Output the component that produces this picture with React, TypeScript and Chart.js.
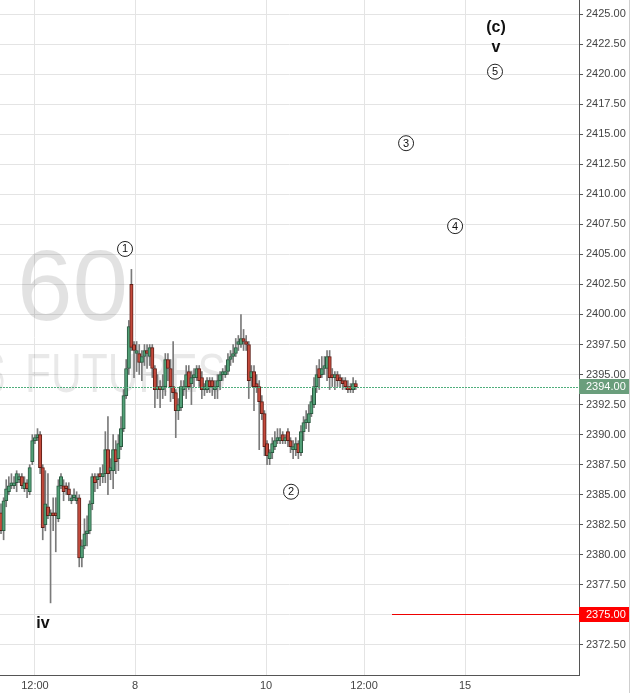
import { useEffect, useRef } from "react";
import { Chart, registerables } from "chart.js";
Chart.register(...registerables);

// OHLC of each bar, left to right
const opens = [
  2383.5, 2382, 2384.5, 2385.25, 2385.75, 2385.75, 2386, 2386.25, 2386.5, 2385.5,
  2386, 2385.25, 2387.75, 2389.5, 2389.75, 2390, 2387.25, 2382.5, 2384, 2383.25,
  2383.5, 2383.5, 2383, 2385.75, 2385.75, 2385.75, 2385.5, 2384.5, 2384.75, 2384.5,
  2384.75, 2379.75, 2380.75, 2381.75, 2382, 2384.25, 2386.5, 2386.25, 2386.75, 2386.5,
  2386.75, 2388.75, 2387, 2387, 2388.75, 2388, 2389, 2390.5, 2393.25, 2395.5,
  2402.5, 2397.5, 2396.75, 2396.75, 2396, 2396.5, 2397, 2396.5, 2397.25, 2395.5,
  2393.75, 2394, 2393.75, 2394, 2396.25, 2395.5, 2394, 2393.5, 2392, 2392.25,
  2393.75, 2394, 2395.25, 2394.25, 2394.75, 2394.75, 2395.5, 2394.75, 2393.75, 2393.75,
  2394.5, 2394.5, 2393.75, 2394, 2394.5, 2395, 2395, 2395.25, 2396.25, 2396.5,
  2396.75, 2397.5, 2397.5, 2398, 2397.75, 2397.5, 2394.75, 2395.25, 2394.25, 2394,
  2392.75, 2391.75, 2389.25, 2388, 2388.5, 2389, 2389.5, 2389.5, 2390, 2389.5,
  2390.25, 2389.5, 2388.75, 2388.75, 2389.25, 2388.5, 2390.25, 2391, 2391, 2391.75,
  2392.5, 2394, 2395.5, 2395, 2395.5, 2395.5, 2396.5, 2395, 2394.75, 2395,
  2394.75, 2394.5, 2394.5, 2394, 2394, 2393.75, 2394.25,
];
const highs = [
  2384.25, 2384.75, 2386.25, 2386.5, 2386.75, 2386.5, 2387, 2386.75, 2386.75, 2386.5,
  2386.25, 2387.5, 2390, 2390, 2390.5, 2390.25, 2387.5, 2387, 2386.75, 2383.75,
  2384.75, 2384.75, 2386.25, 2386.75, 2386.25, 2386, 2386, 2385, 2385.5, 2385.25,
  2385, 2381.25, 2383, 2383.25, 2384.5, 2386.75, 2386.75, 2386.75, 2387.25, 2387.5,
  2390.25, 2391.5, 2388, 2390, 2389.5, 2390, 2391.5, 2393.75, 2396.25, 2399.5,
  2403.75, 2397.75, 2397.75, 2397.5, 2397, 2397.5, 2397.5, 2397.5, 2397.5, 2395.75,
  2395, 2394.5, 2395, 2396.75, 2396.75, 2396.25, 2397.75, 2393.75, 2393, 2394.5,
  2394.5, 2395.75, 2395.75, 2395.25, 2395.5, 2395.75, 2395.75, 2395.25, 2394.25, 2394.75,
  2394.75, 2394.75, 2394.5, 2395, 2395.25, 2395.5, 2395.75, 2396.75, 2397, 2397.5,
  2398, 2398.25, 2400, 2398.75, 2398.25, 2397.75, 2395.75, 2395.75, 2395, 2394.5,
  2393.25, 2392, 2389.5, 2388.75, 2389.75, 2390.25, 2390.5, 2390.5, 2390.25, 2390,
  2390.5, 2389.75, 2389.5, 2389.75, 2389.5, 2390.75, 2391.5, 2392, 2392.5, 2393.25,
  2394.75, 2395.75, 2396.25, 2396.5, 2396.5, 2397, 2397, 2395.5, 2395.25, 2395.25,
  2395, 2394.75, 2394.75, 2394.5, 2394.25, 2394.75, 2394.5,
];
const lows = [
  2381.75, 2381.25, 2384, 2385, 2385.5, 2385.5, 2385.25, 2386, 2385.5, 2385.25,
  2384.75, 2385, 2387.5, 2389.25, 2389.5, 2386.75, 2381.25, 2382, 2383, 2376,
  2382, 2380.25, 2382.75, 2385.5, 2384.5, 2385, 2384.5, 2384.25, 2384.5, 2384.25,
  2379, 2379, 2380.5, 2380.75, 2381.75, 2383.75, 2385.25, 2385.5, 2385.75, 2386,
  2386, 2385, 2386.25, 2385.5, 2386.75, 2387, 2388.75, 2390.25, 2393, 2395,
  2397, 2394.75, 2395.25, 2395, 2394.5, 2395.75, 2395.5, 2395.75, 2394.75, 2392.25,
  2393, 2392.25, 2393, 2393.25, 2394.5, 2392.75, 2393, 2389.75, 2391.25, 2392,
  2393.25, 2393, 2393.75, 2392.5, 2394, 2394.5, 2394, 2393, 2393.25, 2393.5,
  2393.5, 2393.25, 2393, 2393, 2393.75, 2394.5, 2394.75, 2395, 2395.75, 2396,
  2396.5, 2397, 2397.25, 2397, 2397, 2393, 2394, 2392, 2393.5, 2388.75,
  2391.25, 2388.25, 2387.5, 2387.5, 2388, 2388.75, 2389.25, 2389.25, 2389.25, 2389.25,
  2389, 2388.5, 2388, 2388.25, 2388, 2388.25, 2389.5, 2390.5, 2390.25, 2391.5,
  2392.25, 2393.5, 2393.75, 2394.75, 2395, 2394.5, 2393.75, 2394, 2393.75, 2394,
  2394, 2393.75, 2393.75, 2393.5, 2393.5, 2393.5, 2393.75,
];
const closes = [
  2382, 2384.5, 2385.5, 2385.75, 2386, 2386, 2386.75, 2386.5, 2385.75, 2386,
  2385.5, 2387.25, 2389.5, 2389.75, 2390, 2387.25, 2382.25, 2384.25, 2383.25, 2383.5,
  2383.25, 2383.25, 2385.75, 2386.5, 2385.25, 2385.5, 2385, 2384.75, 2385, 2384.75,
  2379.75, 2380.75, 2381.75, 2382, 2384.25, 2386.5, 2386, 2386.5, 2386.5, 2386.75,
  2388.75, 2386.75, 2387.25, 2388.75, 2387.75, 2389.25, 2390.5, 2393.25, 2395.5, 2399,
  2397.25, 2397, 2397, 2396, 2396.5, 2397, 2396.75, 2397.25, 2395.5, 2393.75,
  2394, 2393.75, 2394, 2396.25, 2395.5, 2394, 2393.5, 2392, 2392.5, 2394,
  2394, 2395, 2394, 2394.75, 2395, 2395.5, 2394.5, 2393.75, 2394, 2394.5,
  2394, 2394, 2394, 2394.5, 2395, 2395.25, 2395.25, 2396.25, 2396.5, 2396.75,
  2397.25, 2397.75, 2398, 2397.75, 2397.5, 2394.5, 2395.25, 2394, 2394, 2392.75,
  2391.75, 2389, 2388.25, 2388.5, 2389.25, 2389.5, 2389.75, 2389.75, 2389.5, 2389.75,
  2389.5, 2389, 2389, 2389.25, 2388.5, 2390.25, 2391, 2391.25, 2391.75, 2392.75,
  2394, 2395, 2394.75, 2395.5, 2395.75, 2396.5, 2394.75, 2394.75, 2395, 2394.5,
  2394.5, 2394.25, 2394, 2393.75, 2393.75, 2394.25, 2394,
];

// x axis: bar index positions of the time labels
const xTickPositions = [13, 51.4, 101.6, 139.2, 177.9];
const xTickLabels = ["12:00", "8", "10", "12:00", "15"];
const xMin = -0.383;
const xMax = 221.6;
const yMin = 2370;
const yMax = 2426.165;
const yStep = 2.5;

const lastPrice = 2394;
const targetPrice = 2375;
const targetStartIndex = 150;

// Elliott wave labels
const circledText = ["1", "2", "3", "4", "5"];
const circledX = [47.55, 111.2, 155.3, 174.1, 189.4];
const circledY = [2405.45, 2385.25, 2414.25, 2407.35, 2420.2];
const degreeText = ["(c)", "v", "iv"];
const degreeX = [189.8, 189.8, 16.1];
const degreeY = [2423.9, 2422.2, 2374.3];

const FONT = "'Liberation Sans', Arial, sans-serif";
const GREEN_FILL = "#52a077";
const GREEN_EDGE = "#2a5a40";
const RED_FILL = "#c44a3c";
const RED_EDGE = "#5e1d16";

export default function App() {
  const ref = useRef<HTMLCanvasElement>(null);

  useEffect(() => {
    document.body.style.margin = "0";
    const canvas = ref.current;
    if (!canvas) return;
    const idx = opens.map((_, i) => i);
    const up = idx.map((i) => closes[i] >= opens[i]);

    const overlay = {
      id: "overlay",
      beforeDatasetsDraw(chart: any) {
        const { ctx } = chart;
        ctx.save();
        ctx.fillStyle = "rgba(0,0,0,0.115)";
        ctx.font = `100px ${FONT}`;
        ctx.textAlign = "left";
        ctx.textBaseline = "alphabetic";
        ctx.fillText("60", 17, 320);
        ctx.fillStyle = "rgba(0,0,0,0.085)";
        ctx.font = `56px ${FONT}`;
        ctx.fillText("FUTURES", 25, 392, 201);
        ctx.textAlign = "right";
        ctx.fillText("S", 5, 392, 20);
        ctx.restore();
      },
      afterDatasetsDraw(chart: any) {
        const { ctx, chartArea, scales } = chart;
        const x = scales.x;
        const y = scales.y;
        ctx.save();
        // last price dashed line (filled dashes)
        const yl = Math.round(y.getPixelForValue(lastPrice));
        ctx.fillStyle = "#4fae7c";
        for (let px = Math.floor(chartArea.left); px < chartArea.right; px += 3) {
          ctx.fillRect(px, yl, 2, 1);
        }
        // target line
        const yt = Math.round(y.getPixelForValue(targetPrice)) - 1;
        const xs = Math.round(x.getPixelForValue(targetStartIndex));
        ctx.fillStyle = "#ee0000";
        ctx.fillRect(xs, yt, chartArea.right - xs, 1);
        // circled wave labels
        ctx.font = `11px ${FONT}`;
        ctx.textAlign = "center";
        ctx.textBaseline = "middle";
        circledText.forEach((t, i) => {
          const cx = x.getPixelForValue(circledX[i]);
          const cy = y.getPixelForValue(circledY[i]);
          ctx.beginPath();
          ctx.arc(cx, cy, 7.5, 0, Math.PI * 2);
          ctx.fillStyle = "#ffffff";
          ctx.fill();
          ctx.strokeStyle = "#222";
          ctx.lineWidth = 1;
          ctx.stroke();
          ctx.fillStyle = "#111";
          ctx.fillText(t, cx, cy + 0.5);
        });
        ctx.font = `bold 16px ${FONT}`;
        degreeText.forEach((t, i) => {
          ctx.fillStyle = "#111";
          ctx.fillText(t, x.getPixelForValue(degreeX[i]), y.getPixelForValue(degreeY[i]));
        });
        ctx.restore();
      },
      afterDraw(chart: any) {
        const { ctx, chartArea, scales } = chart;
        const y = scales.y;
        ctx.save();
        ctx.fillStyle = "#cfcfcf";
        ctx.fillRect(chartArea.right + 50, 0, 1, chart.height);
        const box = (v: number, color: string) => {
          const py = Math.round(y.getPixelForValue(v));
          ctx.fillStyle = color;
          ctx.fillRect(chartArea.right, py - 8, 50, 15);
          ctx.fillStyle = "#ffffff";
          ctx.font = `11px ${FONT}`;
          ctx.textAlign = "left";
          ctx.textBaseline = "middle";
          ctx.fillText(v.toFixed(2), chartArea.right + 7, py);
        };
        box(lastPrice, "#6a9e7c");
        box(targetPrice, "#ff0000");
        ctx.restore();
      },
    };

    const chart = new Chart(canvas, {
      type: "bar",
      data: {
        datasets: [
          {
            label: "body",
            data: idx.map((i) => ({ x: i, y: [opens[i], closes[i]] })) as any,
            backgroundColor: idx.map((i) => (up[i] ? GREEN_FILL : RED_FILL)),
            borderColor: idx.map((i) => (up[i] ? GREEN_EDGE : RED_EDGE)),
            borderWidth: 1,
            borderSkipped: false,
            barThickness: 3.4,
            minBarLength: 1,
            grouped: false,
            order: 0,
          } as any,
          {
            label: "wick",
            data: idx.map((i) => ({ x: i, y: [lows[i], highs[i]] })) as any,
            backgroundColor: "#7a7a7a",
            borderWidth: 0,
            barThickness: 1,
            grouped: false,
            order: 1,
          } as any,
        ],
      },
      options: {
        animation: false,
        responsive: false,
        maintainAspectRatio: false,
        layout: { padding: 0 },
        plugins: { legend: { display: false }, tooltip: { enabled: false } },
        scales: {
          x: {
            type: "linear",
            min: xMin,
            max: xMax,
            offset: false,
            grid: { color: "#e4e4e4", drawTicks: false, offset: false },
            border: { color: "#555555" },
            ticks: {
              color: "#444",
              font: { family: FONT, size: 11 },
              padding: 4,
              autoSkip: false,
              maxRotation: 0,
              callback: (_v: any, i: number) => xTickLabels[i],
            },
            afterBuildTicks: (s: any) => {
              s.ticks = xTickPositions.map((v) => ({ value: v }));
            },
            afterFit: (s: any) => {
              s.height = 18;
              s.paddingLeft = 0;
              s.paddingRight = 0;
            },
          } as any,
          y: {
            type: "linear",
            position: "right",
            min: yMin,
            max: yMax,
            beginAtZero: false,
            grid: { color: "#e4e4e4", tickColor: "#555", tickLength: 4 },
            border: { color: "#555555" },
            ticks: {
              stepSize: yStep,
              color: "#444",
              font: { family: FONT, size: 11 },
              padding: 3,
              callback: (v: any) => Number(v).toFixed(2),
            },
            afterBuildTicks: (s: any) => {
              s.ticks = s.ticks.filter((t: any) => t.value >= 2372.5 && t.value <= 2425.001);
            },
            afterFit: (s: any) => {
              s.width = 56;
              s.paddingTop = 0;
              s.paddingBottom = 0;
            },
          } as any,
        },
      },
      plugins: [overlay],
    });
    return () => chart.destroy();
  }, []);

  return (
    <div style={{ width: 635, height: 693 }}>
      <canvas ref={ref} width={635} height={693} style={{ display: "block" }} />
    </div>
  );
}
